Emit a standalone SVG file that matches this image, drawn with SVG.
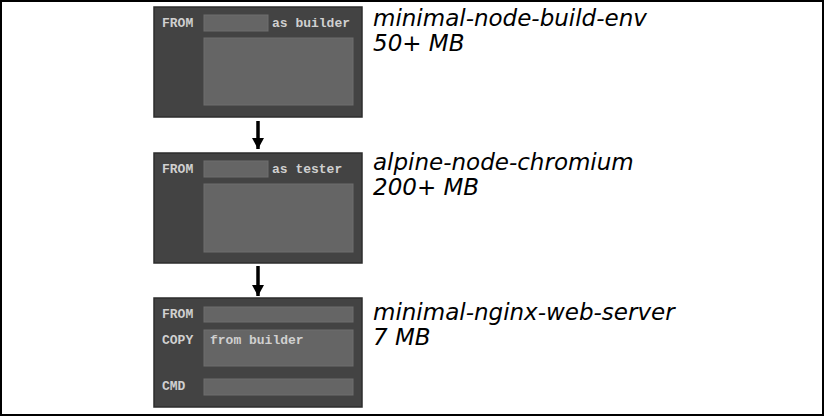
<svg xmlns="http://www.w3.org/2000/svg" width="825" height="417" viewBox="0 0 825 417">
<defs>
<marker id="ah" viewBox="0 0 11 12" refX="11" refY="6" markerWidth="11" markerHeight="12" markerUnits="userSpaceOnUse" orient="auto">
<path d="M0,0 L11,6 L0,12 Z" fill="#000"/>
</marker>
</defs>
<style>
.box{fill:#434343;stroke:#2c2c2c;stroke-width:1.5}
.fld{fill:#656565;stroke:#6f6f6f;stroke-width:1}
.kw{font-family:"Liberation Mono",monospace;font-size:13px;font-weight:bold;fill:#d0d0d0}
.lbl{font-family:"DejaVu Sans","Liberation Sans",sans-serif;font-style:italic;font-size:23px;fill:#000}
.conn{stroke:#000;stroke-width:3.5;fill:none}
</style>
<rect x="1" y="1" width="822" height="414" fill="#fff" stroke="#000" stroke-width="2"/>
<g id="node-build">
<rect class="box" x="154" y="7" width="208" height="110"/>
<text class="kw" x="162" y="27">FROM</text>
<rect class="fld" x="204" y="15" width="64" height="16"/>
<text class="kw" x="272" y="27">as builder</text>
<rect class="fld" x="204" y="38" width="149" height="67"/>
<text class="lbl"><tspan x="373" y="26">minimal-node-build-env</tspan><tspan x="373" y="51">50+ MB</tspan></text>
</g>
<g id="node-tester">
<rect class="box" x="154" y="153" width="208" height="110"/>
<text class="kw" x="162" y="173">FROM</text>
<rect class="fld" x="204" y="161" width="64" height="16"/>
<text class="kw" x="272" y="173">as tester</text>
<rect class="fld" x="204" y="184" width="149" height="68"/>
<text class="lbl"><tspan x="373" y="170">alpine-node-chromium</tspan><tspan x="373" y="195">200+ MB</tspan></text>
</g>
<g id="node-nginx">
<rect class="box" x="154" y="298" width="208" height="109"/>
<text class="kw" x="162" y="318">FROM</text>
<rect class="fld" x="204" y="307" width="149" height="15"/>
<text class="kw" x="162" y="344">COPY</text>
<rect class="fld" x="204" y="330" width="149" height="36"/>
<text class="kw" x="210" y="344">from builder</text>
<text class="kw" x="162" y="390">CMD</text>
<rect class="fld" x="204" y="379" width="149" height="16"/>
<text class="lbl"><tspan x="373" y="320">minimal-nginx-web-server</tspan><tspan x="373" y="345">7 MB</tspan></text>
</g>
<g id="connectors">
<line class="conn" x1="258" y1="121" x2="258" y2="149" marker-end="url(#ah)"/>
<line class="conn" x1="258" y1="266" x2="258" y2="296" marker-end="url(#ah)"/>
</g>
</svg>
